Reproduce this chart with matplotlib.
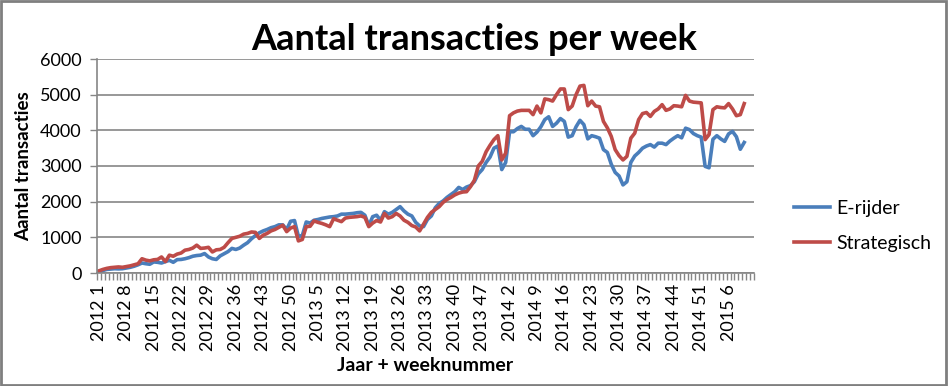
import matplotlib
matplotlib.use("Agg")
import matplotlib.pyplot as plt
import numpy as np
from matplotlib.patches import Rectangle

# weken: 2012 1 .. 2015 12 (laatste twee weken zonder data)
weeks_per_year = {2012: 52, 2013: 52, 2014: 52, 2015: 12}
categories = [f"{y} {w}" for y, n in weeks_per_year.items() for w in range(1, n + 1)]

e_rijder = [
    40, 70, 100, 110, 120, 115, 120, 140, 160, 190,
    230, 280, 260, 245, 310, 300, 280, 320, 355, 300,
    375, 380, 400, 430, 470, 490, 500, 545, 450, 400,
    380, 480, 540, 600, 690, 660, 700, 780, 850, 960,
    1050, 1127, 1180, 1220, 1270, 1300, 1350, 1350, 1220, 1450,
    1470, 1030, 1050, 1430, 1400, 1480, 1500, 1530, 1550, 1570,
    1580, 1600, 1650, 1650, 1660, 1670, 1690, 1700, 1620, 1330,
    1580, 1620, 1480, 1720, 1650, 1700, 1780, 1860, 1740, 1650,
    1600, 1420, 1320, 1300, 1500, 1600, 1830, 1950, 2020, 2120,
    2200, 2280, 2400, 2340, 2410, 2450, 2560, 2780, 2900, 3100,
    3250, 3500, 3560, 2900, 3100, 3960, 3960, 4050, 4110, 4030,
    4030, 3850, 3950, 4100, 4300, 4380, 4110, 4200, 4330, 4250,
    3810, 3850, 4100, 4280, 4160, 3760, 3850, 3820, 3780, 3460,
    3380, 3050, 2820, 2720, 2470, 2560, 3100, 3280, 3380, 3500,
    3560, 3600, 3530, 3640, 3640, 3600, 3700, 3780, 3850, 3790,
    4060, 4020, 3910, 3850, 3810, 2990, 2950, 3750, 3850, 3760,
    3690, 3900, 3970, 3820, 3470, 3660,
]

strategisch = [
    60, 100, 130, 150, 160, 170, 160, 180, 200, 230,
    260, 400, 360, 340, 370, 380, 450, 320, 500, 470,
    530, 560, 640, 660, 700, 780, 690, 700, 720, 590,
    650, 660, 720, 850, 970, 1000, 1030, 1090, 1110, 1150,
    1140, 970, 1060, 1110, 1180, 1220, 1280, 1340, 1160, 1260,
    1300, 900, 940, 1300, 1310, 1460, 1420, 1390, 1350, 1300,
    1520, 1480, 1440, 1540, 1560, 1570, 1580, 1600, 1560, 1300,
    1400, 1470, 1430, 1670, 1540, 1580, 1670, 1600, 1480, 1420,
    1330, 1290, 1180, 1370, 1560, 1700, 1780, 1860, 1980, 2060,
    2120, 2190, 2240, 2270, 2280, 2420, 2600, 3000, 3130, 3400,
    3580, 3740, 3850, 3170, 3360, 4410, 4490, 4540, 4560, 4560,
    4560, 4440, 4680, 4490, 4880, 4860, 4820, 5000, 5160, 5160,
    4580, 4680, 5000, 5240, 5260, 4690, 4820, 4680, 4660, 4250,
    4070, 3830, 3460, 3290, 3170, 3270, 3780, 3920, 4300, 4470,
    4500, 4390, 4530, 4600, 4720, 4560, 4600, 4690, 4680, 4660,
    4980, 4820, 4790, 4780, 4770, 3740, 3880, 4580, 4660, 4640,
    4630, 4750, 4600, 4410, 4440, 4750,
]

BLUE = "#4a7ebb"
RED = "#be4b48"
GRID = "#868686"

plt.rcParams["font.family"] = ["Lato", "DejaVu Sans"]

fig = plt.figure(figsize=(9.48, 3.86), dpi=100)
ax = fig.add_axes([97 / 948, 1 - 273 / 386, 657 / 948, 214 / 386])

n = len(categories)
x = np.arange(len(e_rijder)) + 0.5
ax.plot(x, e_rijder, color=BLUE, lw=2.6, label="E-rijder", solid_joinstyle="round")
ax.plot(x, strategisch, color=RED, lw=2.6, label="Strategisch", solid_joinstyle="round")

ax.set_xlim(0, n)
ax.set_ylim(0, 6000)
ax.set_yticks(np.arange(0, 6001, 1000))
ax.yaxis.grid(True, color=GRID, lw=1.2)
ax.set_axisbelow(True)

lab_idx = np.arange(0, n, 7)
ax.set_xticks(lab_idx + 0.5)
ax.set_xticklabels([categories[i] for i in lab_idx], rotation=90, va="top", ha="center")
ax.set_xticks(np.arange(0, n + 1), minor=True)
ax.tick_params(axis="x", which="major", length=0, pad=8, labelsize=13)
ax.tick_params(axis="x", which="minor", length=5, color=GRID, width=1)
ax.tick_params(axis="y", length=5, color=GRID, width=1, labelsize=13, pad=6)

for s in ("top", "right"):
    ax.spines[s].set_visible(False)
for s in ("left", "bottom"):
    ax.spines[s].set_color(GRID)
    ax.spines[s].set_linewidth(1.2)

fig.text(474 / 948, 1 - 40 / 386, "Aantal transacties per week", ha="center", va="center",
         fontsize=26, fontweight="bold")
ax.set_xlabel("Jaar + weeknummer", fontsize=14, fontweight="bold", labelpad=4)
ax.set_ylabel("Aantal transacties", fontsize=13.5, fontweight="bold", labelpad=6)

fig.legend(loc="center left", bbox_to_anchor=(776 / 948, 1 - 226 / 386), frameon=False,
           fontsize=14, handlelength=1.9, labelspacing=0.9, handletextpad=0.3)

fig.add_artist(Rectangle((0.001, 0.002), 0.997, 0.996, transform=fig.transFigure,
                         fill=False, edgecolor="#7f7f7f", lw=2))

fig.savefig("out.png", dpi=100)
